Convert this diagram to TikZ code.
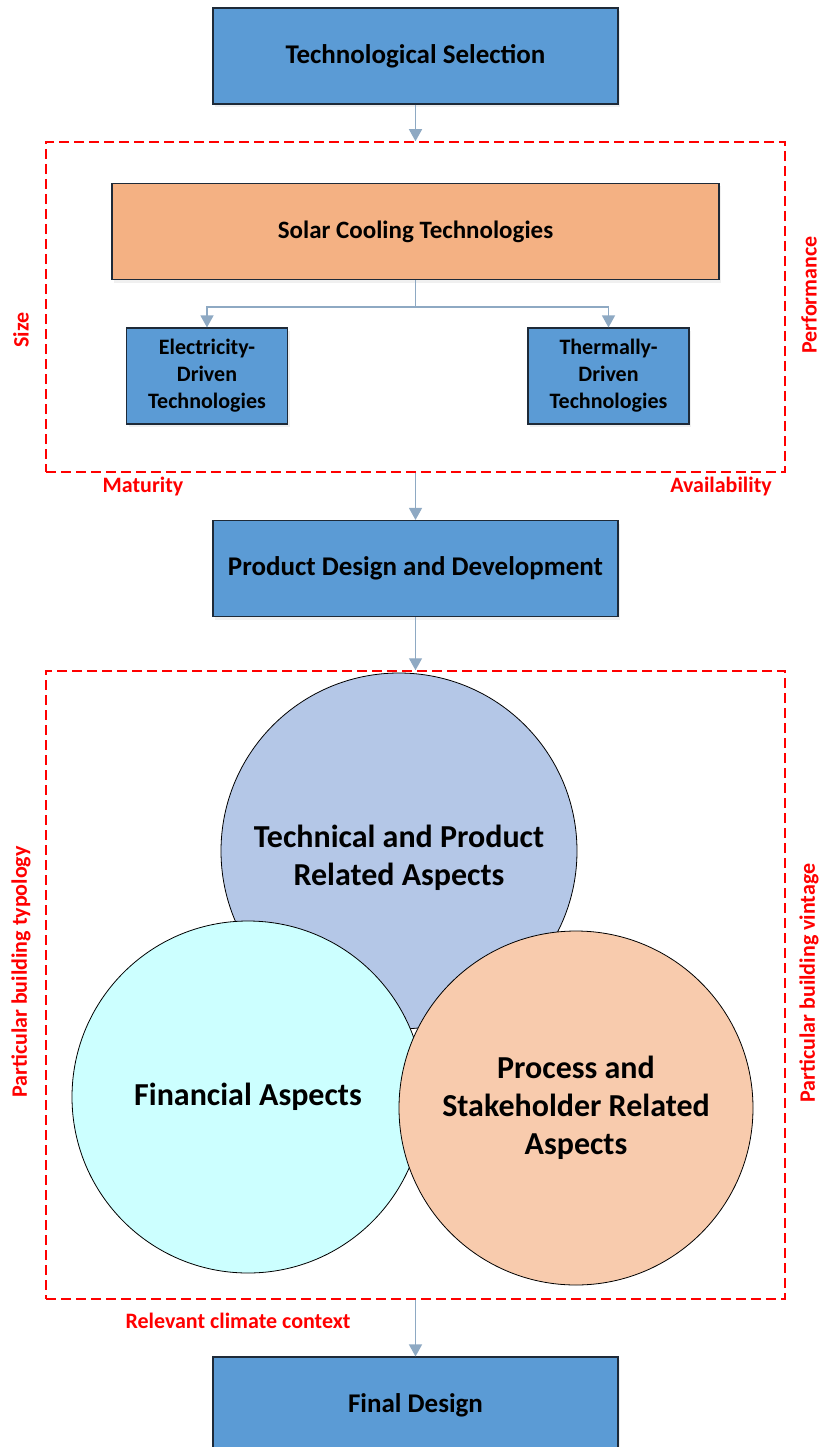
\documentclass[tikz,border=0pt]{standalone}
\usepackage{fontspec}
\setmainfont{Carlito}
\usetikzlibrary{arrows.meta,shadows}
\definecolor{boxblue}{HTML}{5B9BD5}
\definecolor{solarorange}{HTML}{F4B183}
\definecolor{techblue}{HTML}{B4C7E7}
\definecolor{fincyan}{HTML}{CCFFFF}
\definecolor{procpeach}{HTML}{F8CBAD}
\definecolor{linkgray}{HTML}{8EA9C3}
\definecolor{edgedark}{HTML}{1E2A38}
\begin{document}
\begin{tikzpicture}[x=1pt,y=-1pt,
    stage/.style={draw=edgedark,line width=1.1pt,fill=boxblue,minimum width=405pt,minimum height=96pt,
      drop shadow={opacity=0.12,shadow xshift=2pt,shadow yshift=-3pt},font=\fontsize{27}{32}\selectfont\bfseries},
    tech/.style={stage,minimum width=161pt,align=center,font=\fontsize{22}{27}\selectfont\bfseries},
    zone/.style={draw=red,line width=1.5pt,dash pattern=on 10pt off 5pt,minimum width=739pt},
    aspectcircle/.style={circle,draw=black,line width=0.8pt,inner sep=0pt,align=center,
      font=\fontsize{32}{38}\selectfont\bfseries},
    remark/.style={text=red,inner sep=1pt,font=\fontsize{22}{26}\selectfont\bfseries},
    flow/.style={draw=linkgray,line width=1.3pt,-{Triangle[width=13pt,length=12pt]}}]
  \useasboundingbox (0,0) rectangle (822,1447);
  \node[zone,minimum height=330pt] (techzone) at (415.5,307) {};
  \node[zone,minimum height=628pt] (aspectzone) at (415.5,985) {};
  \node[stage] (select) at (415.5,56) {Technological Selection};
  \node[stage,fill=solarorange,minimum width=607pt,font=\fontsize{25}{30}\selectfont\bfseries] (solar) at (415.5,231.5) {Solar Cooling Technologies};
  \node[tech] (electric) at (207,376) {Electricity-\\Driven\\Technologies};
  \node[tech] (thermal) at (608.5,376) {Thermally-\\Driven\\Technologies};
  \node[stage] (product) at (415.5,568.5) {Product Design and Development};
  \node[stage] (final) at (415.5,1405) {Final Design};
  \node[aspectcircle,fill=techblue,minimum size=356pt] (technical) at (399,851) {};
  \node[align=center,font=\fontsize{32}{38}\selectfont\bfseries] (technicaltext) at (399,858) {Technical and Product\\Related Aspects};
  \node[aspectcircle,fill=fincyan,minimum size=352pt] (financial) at (248,1097) {Financial Aspects};
  \node[aspectcircle,fill=procpeach,minimum size=354pt] (process) at (576,1108) {Process and\\Stakeholder Related\\Aspects};
  \node[remark,rotate=90] (size) at (21,330) {Size};
  \node[remark,rotate=90] (performance) at (809,295) {Performance};
  \node[remark] (maturity) at (143,487) {Maturity};
  \node[remark] (availability) at (721,487) {Availability};
  \node[remark,rotate=90] (typology) at (21,972) {Particular building typology};
  \node[remark,rotate=90] (vintage) at (809,983) {Particular building vintage};
  \node[remark] (climate) at (238,1321) {Relevant climate context};
  \draw[flow] (select) -- (techzone);
  \draw[flow] (solar.south) -- ++(0,27) -| (electric.north);
  \draw[flow] (solar.south) -- ++(0,27) -| (thermal.north);
  \draw[flow] (techzone) -- (product);
  \draw[flow] (product) -- (aspectzone);
  \draw[flow] (aspectzone) -- (final);
\end{tikzpicture}
\end{document}
